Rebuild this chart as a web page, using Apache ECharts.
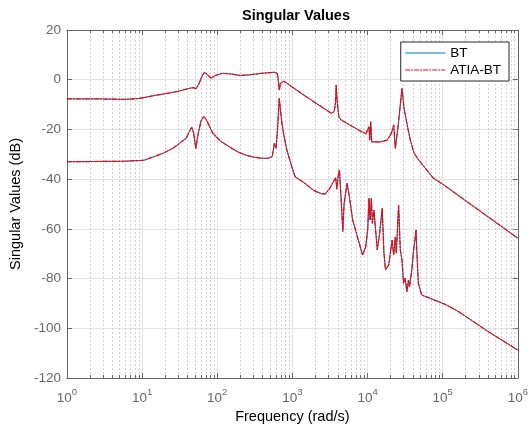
<!DOCTYPE html>
<html>
<head>
<meta charset="utf-8">
<script src="https://cdn.jsdelivr.net/npm/echarts@6/dist/echarts.min.js"></script>
<style>
html,body{margin:0;padding:0;background:#fff;}
#chart{width:531px;height:431px;}
</style>
</head>
<body>
<div id="chart"></div>
<script>
// Frequency (rad/s), Singular value (dB)
var sigma1 = [
  [1,-7.7],[2.4,-7.7],[2.48,-7.95],[5.8,-7.9],[9.0,-7.6],[14.3,-6.4],[22.5,-5.4],[30,-4.7],
  [35.4,-4.1],[41,-3.6],[45.1,-3.3],[48,-3.2],[52.4,-3.6],[57.4,-1.5],[62.8,1.5],[67.7,3.0],
  [73.1,2.2],[82.5,0.6],[96,1.8],[118,2.6],[151,2.3],[204,1.7],[276,2.0],[397,2.6],[570,3.0],
  [624,2.7],[643,1.0],[669,-4.2],[693,-1.5],[726,-0.8],[771,-0.6],[1330,-5.6],[2200,-10.0],
  [3290,-13.5],[3600,-12.8],[3750,-9],[3830,-2.1],[3920,-8],[4150,-14.9],[4450,-16.2],
  [6020,-18.5],[9470,-21.8],[10060,-21.5],[10470,-18.9],[10700,-24.3],[11020,-16.9],
  [11360,-25],[14900,-25],[18240,-24.3],[20780,-21.5],[22290,-18.2],[23450,-27.6],
  [25660,-18],[28690,-3.5],[30750,-12],[33360,-17.5],[36870,-24],[41600,-29.6],[42950,-29.8],
  [49900,-33],[74600,-39.5],[100000,-42],[1000000,-63.8]
];
var sigma2 = [
  [1,-33.0],[5.8,-32.8],[10.6,-32.4],[14.3,-31],[19.3,-29.5],[26.1,-27.5],[33.3,-25],[38.7,-23.5],
  [42.4,-21],[45.7,-19.1],[48.6,-21.5],[51.9,-27.6],[55.6,-22],[60.9,-16.5],[66.1,-14.9],
  [70.8,-15.8],[87.5,-21.6],[111,-24.8],[145,-27],[186,-29],[239,-30.3],[311,-31.2],[397,-31.6],
  [475,-31.6],[537,-31],[561,-28],[575,-25.6],[606,-27.6],[634,-20],[669,-7.5],[693,-12],
  [726,-17.5],[783,-23.5],[845,-28.3],[982,-35],[1085,-39],[1110,-38.6],[1143,-39.5],
  [1469,-41.7],[1911,-44.5],[2432,-45.9],[2743,-45.9],[3095,-44],[3600,-40.5],[3767,-39.5],
  [3906,-44],[4004,-40],[4225,-36.3],[4450,-48],[4687,-61.1],[4872,-50],[5334,-41.7],
  [5666,-46],[6335,-56.4],[7000,-61],[8570,-70.5],[9468,-67.2],[10060,-60],[10470,-47.7],
  [10800,-56.4],[11250,-47.7],[11590,-57.8],[12170,-52.4],[13480,-68.5],[14450,-62],
  [15690,-51.7],[16480,-69.2],[17340,-76.5],[19150,-74.5],[21220,-64.5],[22290,-70.5],
  [23450,-63.2],[24150,-69.8],[25900,-50.4],[27290,-68.5],[28690,-72.5],[30120,-81.9],
  [31700,-79.9],[33360,-85.3],[35060,-80.6],[36140,-83.3],[38830,-76.5],[40800,-69.2],
  [42950,-68.5],[44260,-60.5],[45200,-68.5],[47440,-81.9],[52500,-86.6],[67500,-87.9],
  [112000,-90.6],[167000,-93.5],[402000,-101.3],[1000000,-108.8]
];
var legendNames = ['BT','ATIA-BT'];
var yTicks = [-120,-100,-80,-60,-40,-20,0,20];
var minorX = [];
for (var d = 0; d < 6; d++) { for (var k = 2; k <= 9; k++) { minorX.push(k * Math.pow(10, d)); } }

var FONT = '"Liberation Sans", Arial, Helvetica, sans-serif';
var axisGray = '#666666';

var chart = echarts.init(document.getElementById('chart'), null, {renderer:'canvas'});

function xAxisBase(pos, showLabel) {
  return {
    type:'log', logBase:10, min:1, max:1000000, position:pos, gridIndex:0,
    axisLine:{show:true, onZero:false, lineStyle:{color:axisGray, width:1}},
    axisTick:{show:true, inside:true, length:5, lineStyle:{color:axisGray}},
    minorTick:{show:false},
    splitLine:{show:showLabel, lineStyle:{color:'#e3e3e3', width:1}},
    axisLabel:{
      show:showLabel, margin:9, color:axisGray, fontFamily:FONT,
      formatter:function(v){ return '{b|10}{s|' + Math.round(Math.log10(v)) + '}'; },
      rich:{
        b:{fontSize:13.5, fontFamily:FONT, color:axisGray, verticalAlign:'bottom', lineHeight:18},
        s:{fontSize:9.5, fontFamily:FONT, color:axisGray, verticalAlign:'bottom', lineHeight:18, padding:[0,0,8,0]}
      }
    }
  };
}
function yAxisBase(pos, showLabel) {
  return {
    type:'value', min:yTicks[0], max:yTicks[yTicks.length-1], interval:20, position:pos, gridIndex:0,
    axisLine:{show:true, onZero:false, lineStyle:{color:axisGray, width:1}},
    axisTick:{show:true, inside:true, length:5, lineStyle:{color:axisGray}},
    splitLine:{show:showLabel, lineStyle:{color:'#e3e3e3', width:1}},
    axisLabel:{show:showLabel, margin:6, color:axisGray, fontSize:13.5, fontFamily:FONT}
  };
}

var xb = xAxisBase('bottom', true);
xb.name = 'Frequency (rad/s)';
xb.nameLocation = 'middle';
xb.nameGap = 27;
xb.nameTextStyle = {color:'#000', fontSize:14.5, fontFamily:FONT};
var yl = yAxisBase('left', true);
yl.name = 'Singular Values (dB)';
yl.nameLocation = 'middle';
yl.nameGap = 34;
yl.nameTextStyle = {color:'#000', fontSize:14.5, fontFamily:FONT};

var redDash = [5,1,2,1];

var option = {
  backgroundColor:'#fff',
  animation:false,
  title:{
    text:'Singular Values', left:291, top:3, textAlign:'center',
    textStyle:{fontSize:14.5, fontWeight:'bold', color:'#000', fontFamily:FONT}
  },
  grid:{left:62, top:30, right:12, bottom:53, containLabel:false},
  legend:{
    data:[{name:legendNames[0]},{name:legendNames[1]}],
    orient:'vertical', right:22, top:42,
    backgroundColor:'#fff', borderColor:'#262626', borderWidth:1, borderRadius:0,
    padding:[4,8,4,4], itemGap:3, itemWidth:40, itemHeight:10,
    itemStyle:{opacity:0, color:'transparent', borderWidth:0},
    lineStyle:{width:1},
    textStyle:{fontSize:13.5, color:'#000', fontFamily:FONT},
    selectedMode:false
  },
  xAxis:[xb, xAxisBase('top', false)],
  yAxis:[yl, yAxisBase('right', false)],
  series:[
    {
      type:'custom', xAxisIndex:0, yAxisIndex:0, silent:true, z:1,
      data:minorX.map(function(v){ return [v, 0]; }),
      renderItem:function(params, api){
        var v = api.value(0);
        var b = api.coord([v, yTicks[0]]);
        var t = api.coord([v, yTicks[yTicks.length-1]]);
        var x = Math.round(b[0]) + 0.5;
        return {type:'group', children:[
          {type:'line', shape:{x1:x, y1:b[1], x2:x, y2:t[1]}, style:{stroke:'#d2d2d2', lineWidth:1, lineDash:[2,2]}},
          {type:'line', shape:{x1:x, y1:b[1], x2:x, y2:b[1]-3}, style:{stroke:axisGray, lineWidth:1}},
          {type:'line', shape:{x1:x, y1:t[1], x2:x, y2:t[1]+3}, style:{stroke:axisGray, lineWidth:1}}
        ]};
      }
    },
    {name:legendNames[0], type:'line', data:sigma1, showSymbol:false, symbol:'none', smooth:false, z:3,
      lineStyle:{color:'#0072BD', width:1}, itemStyle:{color:'#0072BD'}},
    {name:legendNames[0], type:'line', data:sigma2, showSymbol:false, symbol:'none', smooth:false, z:3,
      lineStyle:{color:'#0072BD', width:1}, itemStyle:{color:'#0072BD'}},
    {name:legendNames[1], type:'line', data:sigma1, showSymbol:false, symbol:'none', smooth:false, z:4,
      lineStyle:{color:'#FF0000', width:1.2, type:redDash}, itemStyle:{color:'#FF0000'}},
    {name:legendNames[1], type:'line', data:sigma2, showSymbol:false, symbol:'none', smooth:false, z:4,
      lineStyle:{color:'#FF0000', width:1.2, type:redDash}, itemStyle:{color:'#FF0000'}}
  ]
};
chart.setOption(option);
</script>
</body>
</html>
